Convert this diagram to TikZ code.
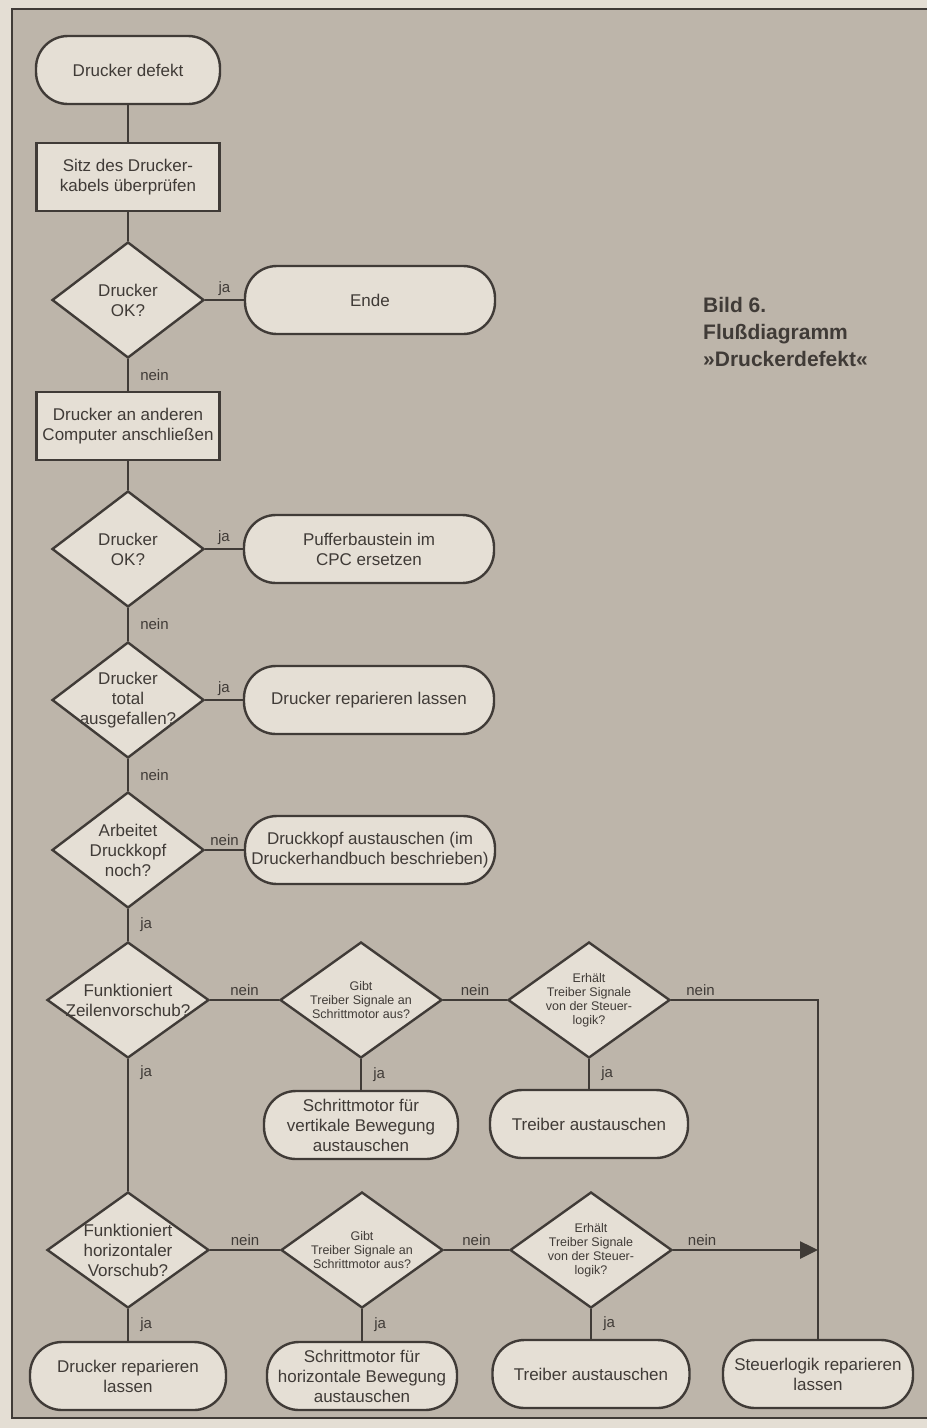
\documentclass[tikz,border=0pt]{standalone}
\usepackage{fontspec}
\setmainfont{Liberation Sans}
\usepackage{tikz}
\usetikzlibrary{shapes.geometric,arrows.meta}

\definecolor{paper}{RGB}{228,222,212}
\definecolor{panel}{RGB}{189,181,170}
\definecolor{piece}{RGB}{229,223,213}
\definecolor{ink}{RGB}{64,59,55}

\begin{document}
\begin{tikzpicture}[x=1pt, y=-1pt,
  every node/.style={font=\fontsize{17}{20}\selectfont, text=ink},
  flow/.style={draw=ink, line width=2.6pt},
  terminal/.style={draw=ink, line width=2.4pt, fill=piece, rectangle, rounded corners=32pt, minimum width=#1, minimum height=68pt, inner sep=1pt, align=center},
  terminal/.default=250pt,
  process/.style={draw=ink, line width=2.4pt, fill=piece, rectangle, minimum width=183pt, minimum height=68pt, align=center},
  decision/.style={draw=ink, line width=2.4pt, fill=piece, diamond, inner sep=0pt, minimum width=#1, minimum height=116pt},
  decision/.default=152pt,
  qtext/.style={align=center, inner sep=0pt},
  smalltext/.style={align=center, inner sep=0pt, font=\fontsize{12.5}{14}\selectfont},
  answer/.style={font=\fontsize{15}{18}\selectfont, inner sep=3pt}]
\def\colx{128}
\def\lowx{162pt}
\useasboundingbox (0,0) rectangle (927,1428);

% PAPER AND FRAME
\fill[paper] (0,0) rectangle (927,1428);
\fill[panel] (12,9) rectangle (927,1418);
\draw[ink, line width=1.8pt] (927,9) -- (12,9) -- (12,1418) -- (927,1418);

\node[anchor=north west, align=left, inner sep=0pt, font=\fontsize{21}{27}\selectfont\bfseries] (title) at (703,297) {Bild 6.\\Flußdiagramm\\»Druckerdefekt«};

% MAIN COLUMN
\node[terminal=184pt] (start) at (\colx,70) {Drucker defekt};
\node[process] (check) at (\colx,177) {Sitz des Drucker-\\kabels überprüfen};
\node[decision, label={[qtext]center:{Drucker\\OK?}}] (q1) at (\colx,300) {};
\node[terminal] (ende) at (370,300) {Ende};
\node[process] (connect) at (\colx,426) {Drucker an anderen\\Computer anschließen};
\node[decision, label={[qtext]center:{Drucker\\OK?}}] (q2) at (\colx,549) {};
\node[terminal] (puffer) at (369,549) {Pufferbaustein im\\CPC ersetzen};
\node[decision, label={[qtext]center:{Drucker\\total\\ausgefallen?}}] (q3) at (\colx,700) {};
\node[terminal] (repair) at (369,700) {Drucker reparieren lassen};
\node[decision, label={[qtext]center:{Arbeitet\\Druckkopf\\noch?}}] (q4) at (\colx,850) {};
\node[terminal] (head) at (370,850) {Druckkopf austauschen (im\\Druckerhandbuch beschrieben)};

% FIRST ROW
\node[decision=\lowx, label={[qtext]center:{Funktioniert\\Zeilenvorschub?}}] (q5) at (\colx,1000) {};
\node[decision=\lowx, label={[smalltext]center:{Gibt\\Treiber Signale an\\Schrittmotor aus?}}] (q6) at (361,1000) {};
\node[terminal=194pt] (motorv) at (361,1125) {Schrittmotor für\\vertikale Bewegung\\austauschen};
\node[decision=\lowx, label={[smalltext]center:{Erhält\\Treiber Signale\\von der Steuer-\\logik?}}] (q7) at (589,1000) {};
\node[terminal=198pt] (driverv) at (589,1124) {Treiber austauschen};

% SECOND ROW
\node[decision=\lowx, label={[qtext]center:{Funktioniert\\horizontaler\\Vorschub?}}] (q8) at (\colx,1250) {};
\node[decision=\lowx, label={[smalltext]center:{Gibt\\Treiber Signale an\\Schrittmotor aus?}}] (q9) at (362,1250) {};
\node[decision=\lowx, label={[smalltext]center:{Erhält\\Treiber Signale\\von der Steuer-\\logik?}}] (q10) at (591,1250) {};
\node[terminal=196pt] (repairh) at (\colx,1376) {Drucker reparieren\\lassen};
\node[terminal=190pt] (motorh) at (362,1376) {Schrittmotor für\\horizontale Bewegung\\austauschen};
\node[terminal=197pt] (driverh) at (591,1374) {Treiber austauschen};
\node[terminal=190pt] (logic) at (818,1374) {Steuerlogik reparieren\\lassen};

% CONNECTORS
\draw[flow] (start) -- (check);
\draw[flow] (check) -- (q1);
\draw[flow] (q1) -- node[answer, above] {ja} (ende);
\draw[flow] (q1) -- node[answer, right, xshift=8pt] {nein} (connect);
\draw[flow] (connect) -- (q2);
\draw[flow] (q2) -- node[answer, above] {ja} (puffer);
\draw[flow] (q2) -- node[answer, right, xshift=8pt] {nein} (q3);
\draw[flow] (q3) -- node[answer, above] {ja} (repair);
\draw[flow] (q3) -- node[answer, right, xshift=8pt] {nein} (q4);
\draw[flow] (q4) -- node[answer, above] {nein} (head);
\draw[flow] (q4) -- node[answer, right, xshift=8pt] {ja} (q5);

\draw[flow] (q5) -- node[answer, above] {nein} (q6);
\draw[flow] (q6) -- node[answer, above] {nein} (q7);
\draw[flow] (q6) -- node[answer, right, xshift=8pt] {ja} (motorv);
\draw[flow] (q7) -- node[answer, right, xshift=8pt] {ja} (driverv);
\draw[flow] (q7) -| node[answer, above, pos=0.1] {nein} (logic);
\draw[flow] (q5) -- node[answer, right, xshift=8pt, pos=0.1] {ja} (q8);

\draw[flow] (q8) -- node[answer, above] {nein} (q9);
\draw[flow] (q9) -- node[answer, above] {nein} (q10);
\draw[flow, -{Triangle[length=18pt, width=17pt]}] (q10) -- node[answer, above, pos=0.2] {nein} (q10 -| logic);
\draw[flow] (q8) -- node[answer, right, xshift=8pt] {ja} (repairh);
\draw[flow] (q9) -- node[answer, right, xshift=8pt] {ja} (motorh);
\draw[flow] (q10) -- node[answer, right, xshift=8pt] {ja} (driverh);
\end{tikzpicture}
\end{document}
